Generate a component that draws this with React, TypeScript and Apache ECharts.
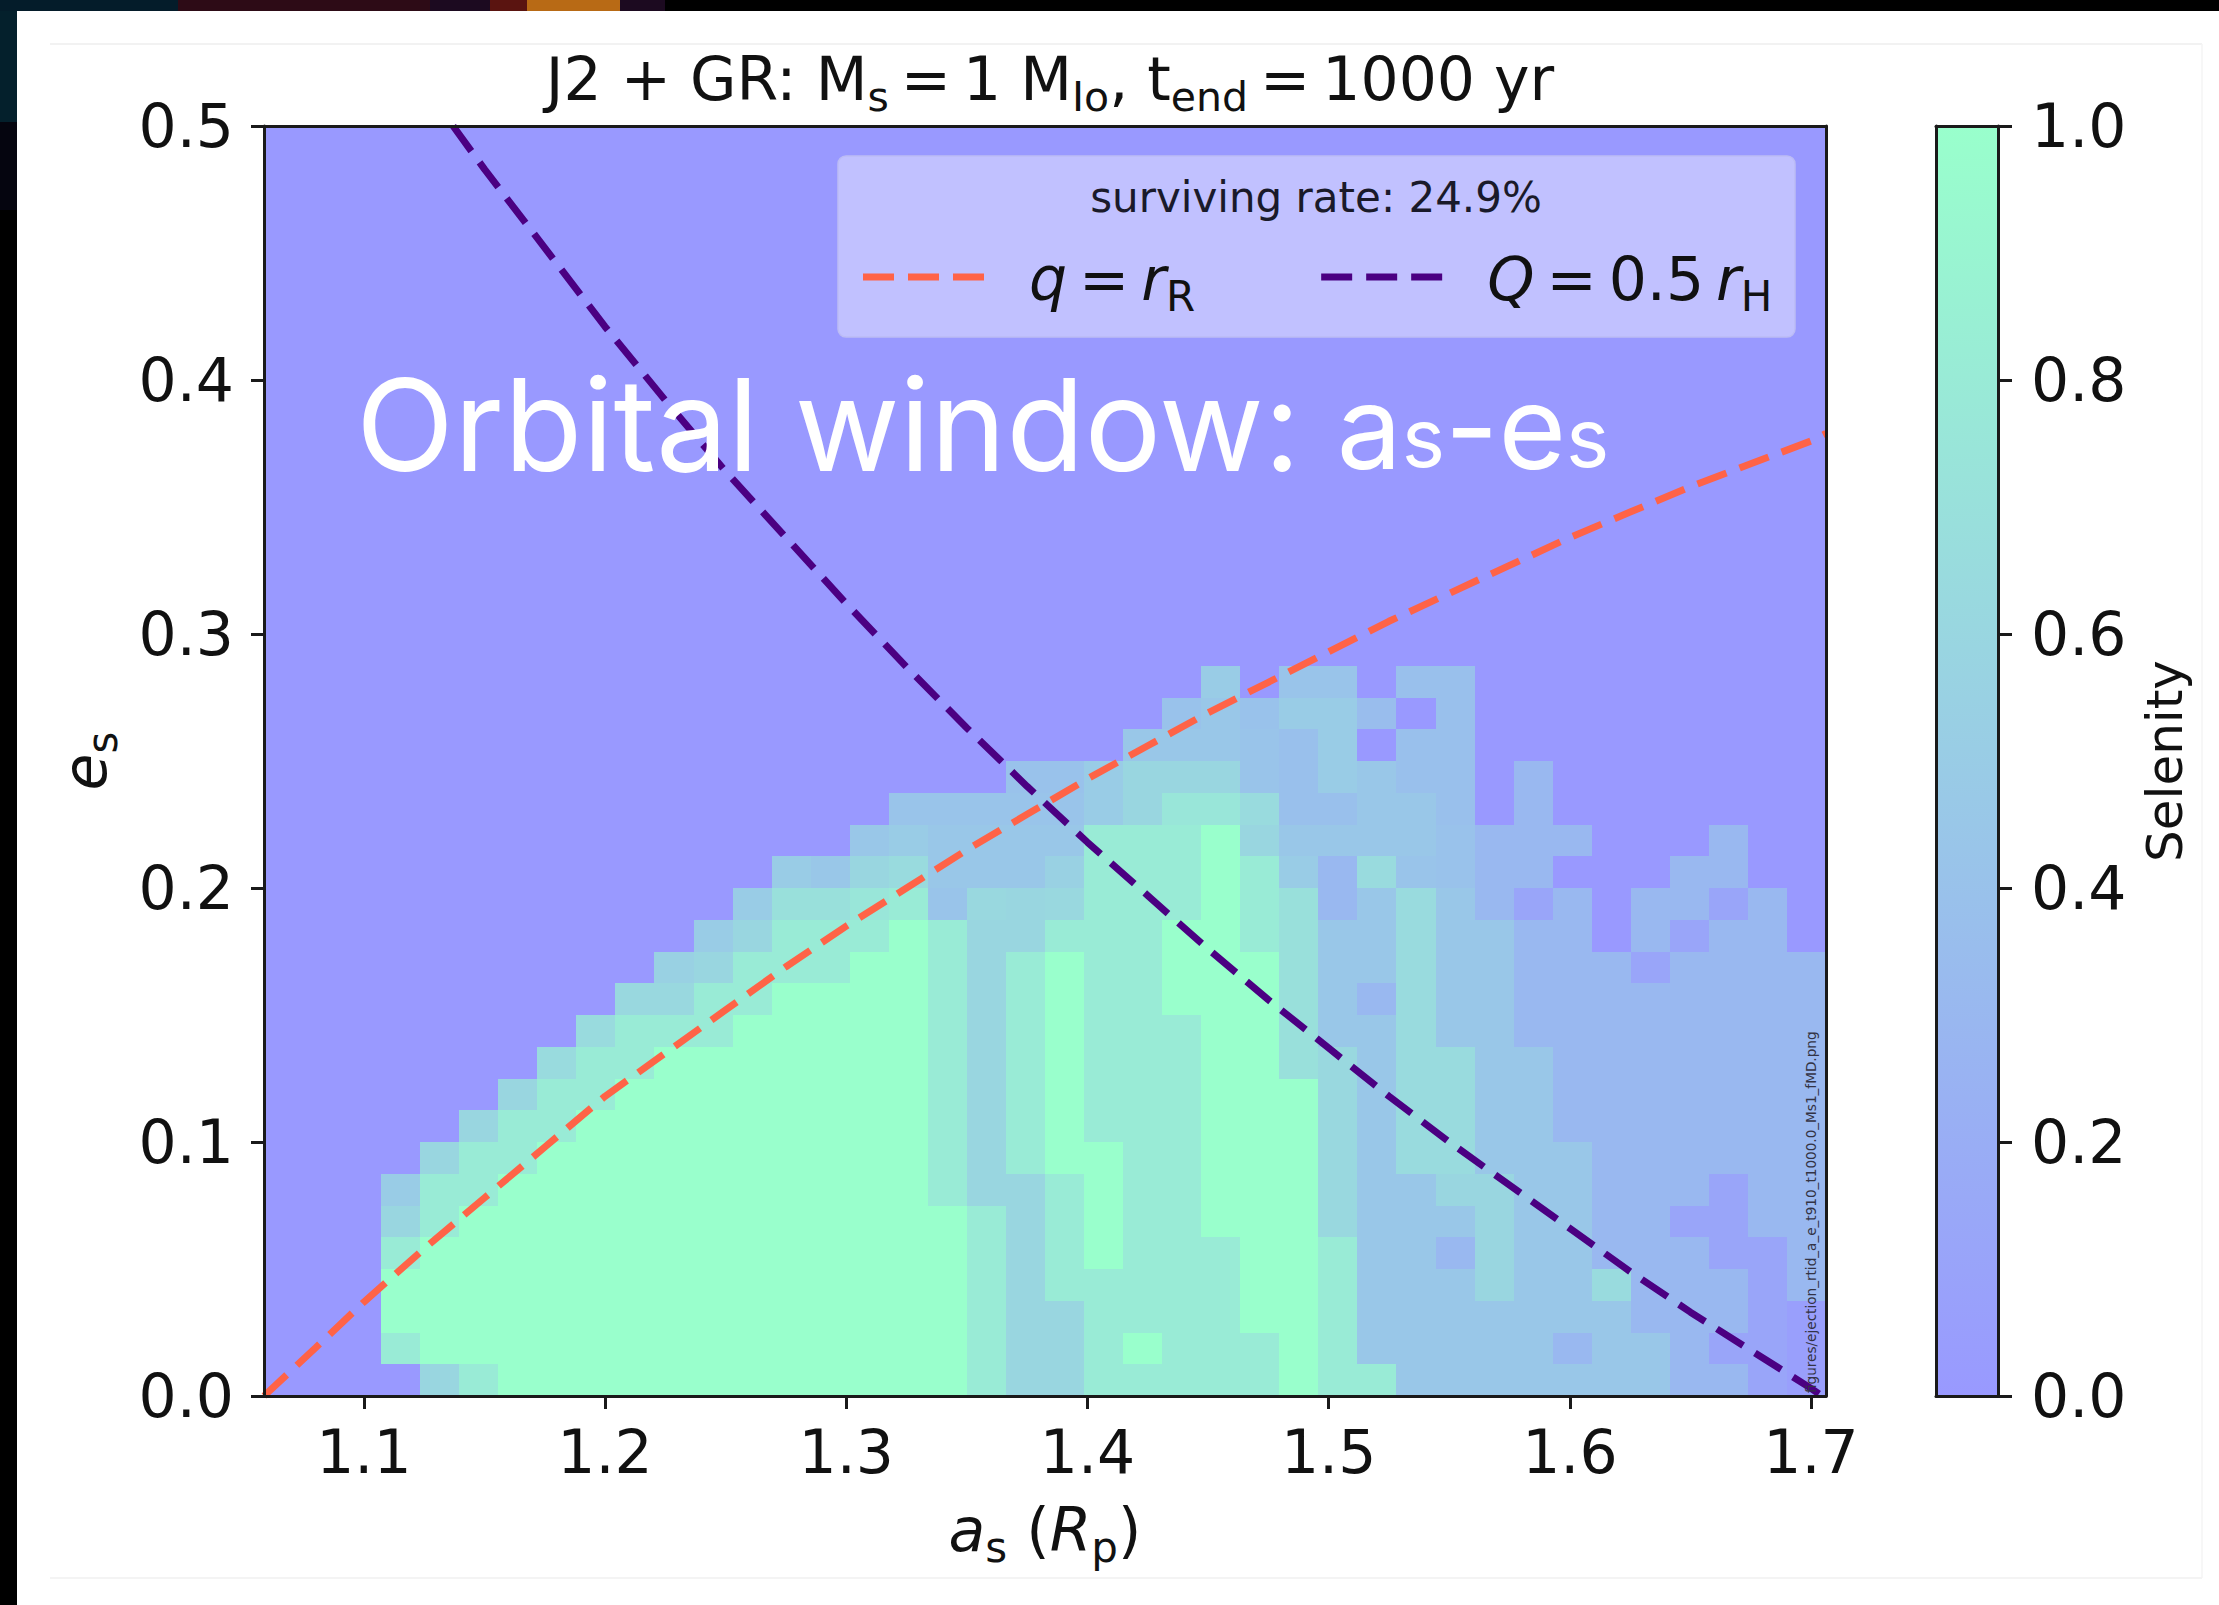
import React, { useEffect, useRef } from "react";
import * as echarts from "echarts";

// ---- data ----
const xTicks = [1.1, 1.2, 1.3, 1.4, 1.5, 1.6, 1.7];
const yTicks = [0, 0.1, 0.2, 0.3, 0.4, 0.5];
const aMin = 1.0586;
const aMax = 1.7062;
const eMax = 0.5;
const gridCount = 40;

// selenity of each column, listed from the bottom row upward; rows not listed are 0
const selenityColumns: number[][] = [
  [], [], [],
  [0, .8, 1, 1, .8, .6, .5],
  [.6, 1, 1, 1, 1, .8, .8, .6],
  [.8, 1, 1, 1, 1, 1, .8, .8, .6],
  [1, 1, 1, 1, 1, 1, 1, .8, .8, .6],
  [1, 1, 1, 1, 1, 1, 1, 1, .8, .8, .65],
  [1, 1, 1, 1, 1, 1, 1, 1, 1, .8, .8, .65],
  [1, 1, 1, 1, 1, 1, 1, 1, 1, 1, .8, .8, .62],
  [1, 1, 1, 1, 1, 1, 1, 1, 1, 1, 1, .8, .62, .55],
  [1, 1, 1, 1, 1, 1, 1, 1, 1, 1, 1, .8, .8, .6, .5],
  [1, 1, 1, 1, 1, 1, 1, 1, 1, 1, 1, 1, .8, .8, .6, .5],
  [1, 1, 1, 1, 1, 1, 1, 1, 1, 1, 1, 1, 1, .8, .8, .7, .5],
  [1, 1, 1, 1, 1, 1, 1, 1, 1, 1, 1, 1, 1, .8, .8, .7, .45],
  [1, 1, 1, 1, 1, 1, 1, 1, 1, 1, 1, 1, 1, 1, .8, .75, .6, .45],
  [1, 1, 1, 1, 1, 1, 1, 1, 1, 1, 1, 1, 1, 1, 1, .8, .65, .5, .42],
  [1, 1, 1, 1, 1, 1, .8, .8, .8, .8, .8, .8, .8, .8, .8, .42, .45, .45, .42],
  [.8, .8, .8, .8, .8, .8, .6, .6, .6, .6, .6, .6, .6, .6, .6, .62, .45, .45, .42],
  [.6, .6, .6, .6, .6, .6, .6, .8, .8, .8, .8, .8, .8, .8, .6, .6, .45, .45, .42, .4],
  [.6, .6, .6, .8, .8, .8, .8, 1, 1, 1, 1, 1, 1, 1, .8, .62, .55, .45, .42, .4],
  [.8, .8, .8, .8, 1, 1, 1, 1, .8, .8, .8, .8, .8, .8, .8, .8, .8, .8, .5, .5],
  [.8, 1, .8, .8, .8, .8, .8, .8, .8, .8, .8, .8, .8, .8, .8, .8, .8, .8, .6, .6, .45],
  [.8, .8, .8, .8, .8, .8, .8, .8, .8, .8, .8, .8, 1, 1, 1, .8, .8, .8, .75, .6, .45, .4],
  [.8, .8, .8, .8, .8, 1, 1, 1, 1, 1, 1, 1, 1, 1, 1, 1, 1, 1, .75, .6, .45, .45, .5],
  [.8, .8, 1, 1, 1, 1, 1, 1, 1, 1, 1, 1, 1, 1, .8, .8, .8, .6, .65, .42, .42, .4],
  [1, 1, 1, 1, 1, 1, 1, 1, 1, 1, .7, .7, .7, .7, .7, .7, .5, .45, .38, .38, .38, .5, .42],
  [.8, .8, .8, .8, .8, .62, .62, .62, .62, .62, .62, .45, .45, .45, .45, .3, .3, .45, .38, .5, .5, .5, .42],
  [.8, .45, .45, .45, .45, .45, .45, .45, .45, .45, .45, .45, .3, .45, .45, .45, .65, .45, .45, .45, 0, .35],
  [.45, .45, .45, .45, .45, .45, .45, .65, .65, .65, .65, .65, .65, .65, .65, .65, .42, .45, .45, .38, .38, 0, .38],
  [.45, .45, .45, .45, .3, .45, .6, .65, .65, .65, .65, .45, .45, .45, .45, .45, .4, .4, .38, .38, .38, .38, .38],
  [.45, .45, .45, .6, .6, .6, .6, .45, .45, .45, .45, .45, .45, .45, .45, .3, .3, .3],
  [.45, .45, .45, .45, .45, .45, .45, .45, .45, .45, .45, .3, .3, .3, .3, .12, .3, .3, .3, .3],
  [.45, .3, .45, .45, .45, .45, .45, .45, .3, .3, .3, .3, .3, .3, .3, .3, 0, .3],
  [.45, .45, .45, .65, .3, .3, .3, .3, .3, .3, .3, .3, .3, .3],
  [.45, .45, .3, .3, .3, .3, .3, .3, .3, .3, .3, .3, .3, .12, .3, .3],
  [.3, .3, .3, .3, .3, .12, .3, .3, .3, .3, .3, .3, .3, .3, .12, .3, .3],
  [.3, .12, .3, .3, .12, .12, .12, .3, .3, .3, .3, .3, .3, .3, .3, .12, .3, .3],
  [.12, .12, .12, .12, .12, .3, .3, .3, .3, .3, .3, .3, .3, .3, .3, .3],
  [.06, .06, .06, .3, .3, .3, .3, .3, .3, .3, .3, .3, .3, .3],
];

// dashed curves, [a, e]
const rocheCurve = [
  [1.0586, 0], [1.08, .019], [1.1, .037], [1.125, .058], [1.15, .078], [1.175, .098], [1.2, .118], [1.225, .135], [1.25, .152],
  [1.275, .169], [1.3, .185], [1.325, .2], [1.35, .215], [1.375, .229], [1.4, .243], [1.425, .256], [1.45, .269], [1.475, .281],
  [1.5, .293], [1.525, .305], [1.55, .316], [1.575, .327], [1.6, .338], [1.625, .348], [1.65, .358], [1.675, .367], [1.7, .376], [1.7062, .379],
];
const hillCurve = [
  [1.137, .5], [1.15, .483], [1.175, .452], [1.2, .421], [1.225, .392], [1.25, .364], [1.275, .338], [1.3, .312], [1.325, .287],
  [1.35, .263], [1.375, .24], [1.4, .218], [1.425, .197], [1.45, .176], [1.475, .156], [1.5, .137], [1.525, .118], [1.55, .1],
  [1.575, .083], [1.6, .066], [1.625, .049], [1.65, .033], [1.675, .018], [1.7, .003], [1.7045, 0],
];

const cbarTicks = [0, 0.2, 0.4, 0.6, 0.8, 1];
const colorLow = "#9999ff";
const colorHigh = "#99ffcc";
const legendNames = ["q = rR", "Q = 0.5 rH"];
const titleText = "{m|J2 + GR: M}{s|s}{m|\u2009=\u20091 M}{s|Io}{m|, t}{s|end}{m|\u2009=\u20091000 yr}";
const survivingText = "surviving rate: 24.9%";
const watermark = "figures/ejection_rtid_a_e_t910_t1000.0_Ms1_fMD.png";

const FONT = "DejaVu Sans";
const INK = "#111111";
const FS = 60;
const LEGEND_DASHES = "path://M0 0H31V7H0Z M45 0H76V7H45Z M90 0H121V7H90Z";

const cells: number[][] = [];
selenityColumns.forEach((col, i) => {
  for (let r = 0; r < gridCount; r++) cells.push([i, r, col[r] ?? 0]);
});

const GRID = { left: 264, top: 126, width: 1562, height: 1270 };
const CB = { left: 1936, top: 126, width: 62, height: 1270 };

const frameAxis = (gridIndex: number, position: string, min: number, max: number) => ({
  type: "value", gridIndex, position, min, max, z: 6,
  axisLine: { show: true, onZero: false, lineStyle: { color: "#1a1a1a", width: 3 } },
  axisTick: { show: false }, axisLabel: { show: false }, splitLine: { show: false },
});

const mathRich = {
  i: { fontFamily: FONT, fontStyle: "italic", fontSize: FS, color: INK, lineHeight: 80, verticalAlign: "bottom", padding: [0, 0, 8, 0] },
  m: { fontFamily: FONT, fontSize: FS, color: INK, lineHeight: 80, verticalAlign: "bottom", padding: [0, 0, 8, 0] },
  s: { fontFamily: FONT, fontSize: 42, color: INK, lineHeight: 80, verticalAlign: "bottom" },
};

function buildOption() {
  const aStep = (aMax - aMin) / gridCount;
  const eStep = eMax / gridCount;
  return {
    animation: false,
    backgroundColor: "#000000",
    title: {
      text: titleText, left: 1045, top: 36, textAlign: "center",
      textStyle: {
        fontWeight: "normal",
        rich: {
          m: { fontFamily: FONT, fontWeight: "normal", fontSize: 60, color: INK, lineHeight: 76, verticalAlign: "bottom", padding: [0, 0, 8, 0] },
          s: { fontFamily: FONT, fontWeight: "normal", fontSize: 41, color: INK, lineHeight: 76, verticalAlign: "bottom" },
        },
      },
    },
    grid: [
      { ...GRID, show: false },
      { ...CB, show: false },
    ],
    xAxis: [
      {
        type: "value", gridIndex: 0, position: "bottom", min: aMin, max: aMax, z: 6,
        name: "{i|a}{s|s}{m| (}{i|R}{s|p}{m|)}", nameLocation: "middle", nameGap: 92,
        nameTextStyle: { rich: mathRich },
        axisLine: { show: true, onZero: false, lineStyle: { color: "#1a1a1a", width: 3 } },
        axisTick: { show: true, length: 13, lineStyle: { color: "#1a1a1a", width: 3 }, customValues: xTicks },
        axisLabel: { show: true, margin: 26, fontFamily: FONT, fontSize: FS, color: INK, customValues: xTicks, formatter: (v: number) => v.toFixed(1) },
        splitLine: { show: false },
      },
      frameAxis(0, "top", aMin, aMax),
      frameAxis(1, "bottom", 0, 1),
      frameAxis(1, "top", 0, 1),
    ],
    yAxis: [
      {
        type: "value", gridIndex: 0, position: "left", min: 0, max: eMax, interval: 0.1, z: 6,
        name: "{i|e}{s|s}", nameLocation: "middle", nameGap: 141, nameRotate: 90,
        nameTextStyle: { rich: mathRich },
        axisLine: { show: true, onZero: false, lineStyle: { color: "#1a1a1a", width: 3 } },
        axisTick: { show: true, length: 13, lineStyle: { color: "#1a1a1a", width: 3 } },
        axisLabel: { show: true, margin: 30, padding: [5, 0, 0, 0], fontFamily: FONT, fontSize: FS, color: INK, formatter: (v: number) => yTicks.includes(+v.toFixed(1)) ? v.toFixed(1) : "" },
        splitLine: { show: false },
      },
      frameAxis(0, "right", 0, eMax),
      {
        type: "value", gridIndex: 1, position: "right", min: 0, max: 1, interval: 0.2, z: 6,
        name: "Selenity", nameLocation: "middle", nameGap: 142, nameRotate: 90,
        nameTextStyle: { fontFamily: FONT, fontSize: 50, color: INK },
        axisLine: { show: true, onZero: false, lineStyle: { color: "#1a1a1a", width: 3 } },
        axisTick: { show: true, length: 14, lineStyle: { color: "#1a1a1a", width: 3 } },
        axisLabel: { show: true, margin: 33, padding: [5, 0, 0, 0], fontFamily: FONT, fontSize: FS, color: INK, formatter: (v: number) => cbarTicks.includes(+v.toFixed(1)) ? v.toFixed(1) : "" },
        splitLine: { show: false },
      },
      frameAxis(1, "left", 0, 1),
    ],
    visualMap: {
      show: false, type: "continuous", min: 0, max: 1, dimension: 2, seriesIndex: 0,
      inRange: { color: [colorLow, colorHigh] },
    },
    legend: {
      show: true, left: 863, top: 249, orient: "horizontal", padding: 0,
      itemWidth: 121, itemHeight: 7, itemGap: 126,
      icon: LEGEND_DASHES,
      data: legendNames,
      formatter: (name: string) =>
        name === legendNames[0]
          ? "{g| }{i|q}{m|\u2009=\u2009}{i|r}{s|R}"
          : "{g| }{i|Q}{m|\u2009=\u20090.5\u2009}{i|r}{s|H}",
      textStyle: { rich: { ...mathRich, g: { width: 40, fontSize: 12, lineHeight: 80 } } },
      z: 20,
    },
    series: [
      {
        type: "custom", name: "Selenity", xAxisIndex: 0, yAxisIndex: 0, z: 1,
        coordinateSystem: "cartesian2d",
        encode: { x: 3, y: 4 },
        dimensions: ["col", "row", "value", "a", "e"],
        data: cells.map(([c, r, v]) => [c, r, v, aMin + c * aStep, r * eStep]),
        renderItem: (_p: any, api: any) => {
          const c = api.value(0);
          const r = api.value(1);
          const p0 = api.coord([aMin + c * aStep, r * eStep]);
          const p1 = api.coord([aMin + (c + 1) * aStep, (r + 1) * eStep]);
          const x = Math.round(p0[0]);
          const y = Math.round(p1[1]);
          return {
            type: "rect",
            shape: { x, y, width: Math.round(p1[0]) - x, height: Math.round(p0[1]) - y },
            style: { fill: api.visual("color") },
          };
        },
      },
      {
        type: "custom", name: "colorbar", xAxisIndex: 2, yAxisIndex: 2, z: 1,
        coordinateSystem: "cartesian2d",
        encode: { x: 0, y: 1 },
        data: [[0, 0]],
        renderItem: (_p: any, api: any) => {
          const p0 = api.coord([0, 0]);
          const p1 = api.coord([1, 1]);
          return {
            type: "rect",
            shape: { x: p0[0], y: p1[1], width: p1[0] - p0[0], height: p0[1] - p1[1] },
            style: {
              fill: new echarts.graphic.LinearGradient(0, 1, 0, 0, [
                { offset: 0, color: colorLow },
                { offset: 1, color: colorHigh },
              ]),
            },
          };
        },
      },
      {
        type: "line", name: legendNames[0], xAxisIndex: 0, yAxisIndex: 0, data: rocheCurve, symbol: "none", z: 4,
        clip: true, lineStyle: { color: "#ff6347", width: 7, type: [31, 14] }, itemStyle: { color: "#ff6347" },
      },
      {
        type: "line", name: legendNames[1], xAxisIndex: 0, yAxisIndex: 0, data: hillCurve, symbol: "none", z: 4,
        clip: true, lineStyle: { color: "#4b0082", width: 7, type: [31, 14] }, itemStyle: { color: "#4b0082" },
      },
    ],
    graphic: [
      // page behind the figure
      { type: "rect", z: -5, shape: { x: 0, y: 0, width: 17, height: 122 }, style: { fill: "#04202c" } },
      { type: "rect", z: -5, shape: { x: 0, y: 122, width: 17, height: 88 }, style: { fill: "#05050f" } },
      { type: "rect", z: -5, shape: { x: 0, y: 0, width: 178, height: 11 }, style: { fill: "#041c2a" } },
      { type: "rect", z: -5, shape: { x: 178, y: 0, width: 252, height: 11 }, style: { fill: "#2d0b16" } },
      { type: "rect", z: -5, shape: { x: 430, y: 0, width: 60, height: 11 }, style: { fill: "#1c0a20" } },
      { type: "rect", z: -5, shape: { x: 490, y: 0, width: 37, height: 11 }, style: { fill: "#5a1410" } },
      { type: "rect", z: -5, shape: { x: 527, y: 0, width: 93, height: 11 }, style: { fill: "#b86a15" } },
      { type: "rect", z: -5, shape: { x: 620, y: 0, width: 45, height: 11 }, style: { fill: "#1c0a20" } },
      { type: "rect", z: -4, shape: { x: 17, y: 11, width: 2202, height: 1594 }, style: { fill: "#ffffff" } },
      { type: "line", z: -3, shape: { x1: 50, y1: 44, x2: 2202, y2: 44 }, style: { stroke: "#eeeeee", lineWidth: 1.5 } },
      { type: "line", z: -3, shape: { x1: 50, y1: 1578, x2: 2202, y2: 1578 }, style: { stroke: "#f1f1f1", lineWidth: 1.5 } },
      { type: "line", z: -3, shape: { x1: 2202, y1: 44, x2: 2202, y2: 1578 }, style: { stroke: "#f4f4f4", lineWidth: 1.5 } },
      // legend box
      { type: "rect", z: 10, shape: { x: 838, y: 156, width: 957, height: 181, r: 8 }, style: { fill: "#c1c1ff", stroke: "#bcbcf5", lineWidth: 1.5 } },
      { type: "text", z: 11, x: 1316, y: 197, style: { text: survivingText, fontFamily: FONT, fontSize: 42, fill: "#1a1a2a", align: "center", verticalAlign: "middle" } },
      // file name printed along the right edge
      { type: "text", z: 11, x: 1811, y: 1393, rotation: Math.PI / 2, style: { text: watermark, fontFamily: FONT, fontSize: 13.6, fill: "#334", align: "left", verticalAlign: "middle" } },
      // slide caption laid over the figure
      {
        type: "text", z: 30, x: 356, y: 488,
        style: {
          text: "{b|Orbital window: }{d|a}{c|s}{d|-e}{c|s}",
          verticalAlign: "bottom", align: "left",
          rich: {
            b: { fontFamily: "Inter", fontWeight: 400, fontSize: 128, fill: "#ffffff", lineHeight: 160, verticalAlign: "bottom" },
            d: { fontFamily: "Inter", fontWeight: 400, fontSize: 116, fill: "#ffffff", lineHeight: 160, verticalAlign: "bottom", padding: [0, 0, 3, 0] },
            c: { fontFamily: "Inter", fontWeight: 400, fontSize: 82, fill: "#ffffff", lineHeight: 160, verticalAlign: "bottom", padding: [0, 0, 10, 0] },
          },
        },
      },
    ],
  };
}

export default function App() {
  const ref = useRef<HTMLDivElement>(null);
  useEffect(() => {
    if (!ref.current) return;
    const chart = echarts.init(ref.current, undefined, { renderer: "svg" });
    chart.setOption(buildOption() as any);
    return () => chart.dispose();
  }, []);
  return <div ref={ref} style={{ position: "absolute", left: 0, top: 0, width: 2219, height: 1605 }} />;
}
